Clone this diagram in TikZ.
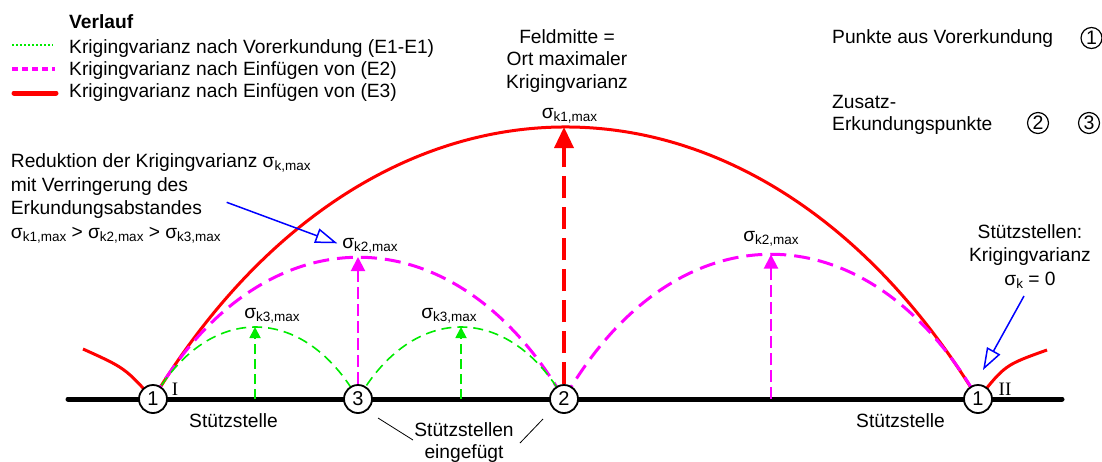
\documentclass[tikz,border=0pt]{standalone}
\usepackage{fontspec}
\setmainfont{Liberation Sans}
\newfontfamily\romfont{Liberation Serif}
\usetikzlibrary{arrows.meta,calc,backgrounds}
\definecolor{cgreen}{RGB}{0,235,0}
\definecolor{cmag}{RGB}{255,0,255}
\definecolor{cred}{RGB}{255,0,0}
\definecolor{cblue}{RGB}{0,0,255}
\newcommand{\sgm}[1]{σ\raisebox{-3pt}{\fontsize{13.5}{14}\selectfont #1}}
\tikzset{
  txt/.style={font=\fontsize{19.2}{22}\selectfont, inner sep=0pt},
  romtxt/.style={font=\romfont\fontsize{19}{20}\selectfont, inner sep=0pt},
  ptc/.style={circle, draw, line width=1.8pt, fill=white, minimum size=28pt, inner sep=0pt, font=\fontsize{20}{20}\selectfont},
  legc/.style={circle, draw, line width=1.2pt, fill=white, minimum size=21pt, inner sep=0pt, font=\fontsize{19.5}{20}\selectfont},
  baseln/.style={line width=5pt, line cap=round},
  redarc/.style={cred, line width=3pt},
  magarc/.style={cmag, line width=3pt, dash pattern=on 16pt off 8pt},
  grnarc/.style={cgreen, line width=1.6pt, dash pattern=on 10pt off 6pt},
  redvert/.style={cred, line width=3.5pt, dash pattern=on 22pt off 9pt, -{Triangle[length=21pt,width=19pt]}},
  magvert/.style={cmag, line width=2pt, dash pattern=on 12pt off 5pt, -{Triangle[length=14pt,width=14pt]}},
  grnvert/.style={cgreen, line width=1.8pt, dash pattern=on 10pt off 5pt, -{Triangle[length=11pt,width=11pt]}},
  bluearr/.style={cblue, line width=1.5pt, -{Triangle[length=22pt,width=15pt,fill=white]}},
  leader/.style={line width=0.8pt}
}
\begin{document}
\begin{tikzpicture}[x=1pt,y=-1pt]
\useasboundingbox (0,0) rectangle (1102,461);

% points on the axis
\coordinate (L) at (68,399);
\coordinate (R) at (1062,399);
\node[ptc] (c1) at (153,399) {1};
\node[ptc] (c3) at (358,399) {3};
\node[ptc] (c2) at (564,399) {2};
\node[ptc] (c1r) at (978,399) {1};

% peaks
\coordinate (p1) at (565.5,127);
\coordinate (p2a) at (358,257);
\coordinate (p2b) at (771,254.5);
\coordinate (p3a) at (255,327);
\coordinate (p3b) at (461,327);
\coordinate (b2b) at (771,399);
\coordinate (b3a) at (255,399);
\coordinate (b3b) at (461,399);

\begin{scope}[on background layer]
  \draw[baseln] (L) -- (R);
  % red arc (E3)
  \draw[redarc] (c1.center) .. controls ($(c1.center)!0.267!(c1r.center)+(0,-362.7)$) and ($(c1r.center)!0.267!(c1.center)+(0,-362.7)$) .. (c1r.center);
  \draw[redarc] (83,349) .. controls (125,368) .. (c1.center);
  \draw[redarc] (c1r.center) .. controls (1005,365) .. (1047,350);
  % magenta arcs (E2)
  \draw[magarc] (c1.center) .. controls ($(c1.center)!0.267!(c2.center)+(0,-189)$) and ($(c2.center)!0.267!(c1.center)+(0,-189)$) .. (c2.center);
  \draw[magarc] (c2.center) .. controls ($(c2.center)!0.267!(c1r.center)+(0,-193)$) and ($(c1r.center)!0.267!(c2.center)+(0,-193)$) .. (c1r.center);
  % green arcs (E1)
  \draw[grnarc] (c1.center) .. controls ($(c1.center)!0.267!(c3.center)+(0,-96)$) and ($(c3.center)!0.267!(c1.center)+(0,-96)$) .. (c3.center);
  \draw[grnarc] (c3.center) .. controls ($(c3.center)!0.267!(c2.center)+(0,-96)$) and ($(c2.center)!0.267!(c3.center)+(0,-96)$) .. (c2.center);
  % vertical arrows
  \draw[redvert] (c2.north) -- (c2.north |- p1);
  \draw[magvert] (c3.north) -- (p2a);
  \draw[magvert] (b2b) -- (p2b);
  \draw[grnvert] (b3a) -- (p3a);
  \draw[grnvert] (b3b) -- (p3b);
\end{scope}

% sigma labels
\node[txt, anchor=base] (s1) at (569.5,118) {\sgm{k1,max}};
\node[txt, anchor=base] (s2a) at (370,248) {\sgm{k2,max}};
\node[txt, anchor=base] (s2b) at (771,241.7) {\sgm{k2,max}};
\node[txt, anchor=base] (s3a) at (272,318) {\sgm{k3,max}};
\node[txt, anchor=base] (s3b) at (449,318) {\sgm{k3,max}};

% I / II
\node[romtxt, anchor=base] (rI) at (175,395.5) {I};
\node[romtxt, anchor=base] (rII) at (1005,395) {II};

% axis labels
\node[txt, anchor=base] (st1) at (233.5,427) {Stützstelle};
\node[txt, anchor=base] (st2) at (900.5,427) {Stützstelle};
\node[txt, anchor=base] (se1) at (464,436.7) {Stützstellen};
\node[txt, anchor=base] (se2) at (464,458.5) {eingefügt};
\coordinate (ld1a) at (378,418);
\coordinate (ld1b) at (413,440);
\coordinate (ld2a) at (543,419);
\coordinate (ld2b) at (520,443);
\draw[leader] (ld1a) -- (ld1b);
\draw[leader] (ld2a) -- (ld2b);

% legend left
\node[txt, anchor=base west, font=\bfseries\fontsize{19.2}{22}\selectfont] (vl) at (69,28) {Verlauf};
\node[txt, anchor=base west] (lg1) at (69,53.3) {Krigingvarianz nach Vorerkundung (E1-E1)};
\node[txt, anchor=base west] (lg2) at (69,75.5) {Krigingvarianz nach Einfügen von (E2)};
\node[txt, anchor=base west] (lg3) at (69,97.5) {Krigingvarianz nach Einfügen von (E3)};
\draw[cgreen, line width=1.5pt, dash pattern=on 2pt off 2pt] (12,45) -- (53,45);
\draw[cmag, line width=3.5pt, dash pattern=on 6pt off 4pt] (12,69) -- (55,69);
\draw[cred, line width=5pt, line cap=round] (14,93) -- (56,93);

% Feldmitte
\node[txt, anchor=base] (fm1) at (567,43.3) {Feldmitte =};
\node[txt, anchor=base] (fm2) at (567,65.7) {Ort maximaler};
\node[txt, anchor=base] (fm3) at (567,88) {Krigingvarianz};

% legend right
\node[txt, anchor=base west] (pv) at (832,43) {Punkte aus Vorerkundung};
\node[legc] (l1) at (1091.5,38) {1};
\node[txt, anchor=base west] (zs1) at (832,108.5) {Zusatz-};
\node[txt, anchor=base west] (zs2) at (832,130) {Erkundungspunkte};
\node[legc] (l2) at (1038,123) {2};
\node[legc] (l3) at (1089,123) {3};

% left explanation
\node[txt, anchor=base west] (rd1) at (10.7,167) {Reduktion der Krigingvarianz \sgm{k,max}};
\node[txt, anchor=base west] (rd2) at (10.7,191) {mit Verringerung des};
\node[txt, anchor=base west] (rd3) at (10.7,214.5) {Erkundungsabstandes};
\node[txt, anchor=base west] (rd4) at (10.7,238) {\sgm{k1,max} > \sgm{k2,max} > \sgm{k3,max}};
\coordinate (ba1) at (226.7,202.3);
\coordinate (ba1t) at (337.3,243.3);
\draw[bluearr] (ba1) -- (ba1t);

% right explanation
\node[txt, anchor=base] (sz1) at (1030,238.3) {Stützstellen:};
\node[txt, anchor=base] (sz2) at (1030,261.7) {Krigingvarianz};
\node[txt, anchor=base] (sz3) at (1030,285.5) {\sgm{k} = 0};
\coordinate (ba2) at (1024,296);
\coordinate (ba2t) at (983,370);
\draw[bluearr] (ba2) -- (ba2t);
\end{tikzpicture}
\end{document}
